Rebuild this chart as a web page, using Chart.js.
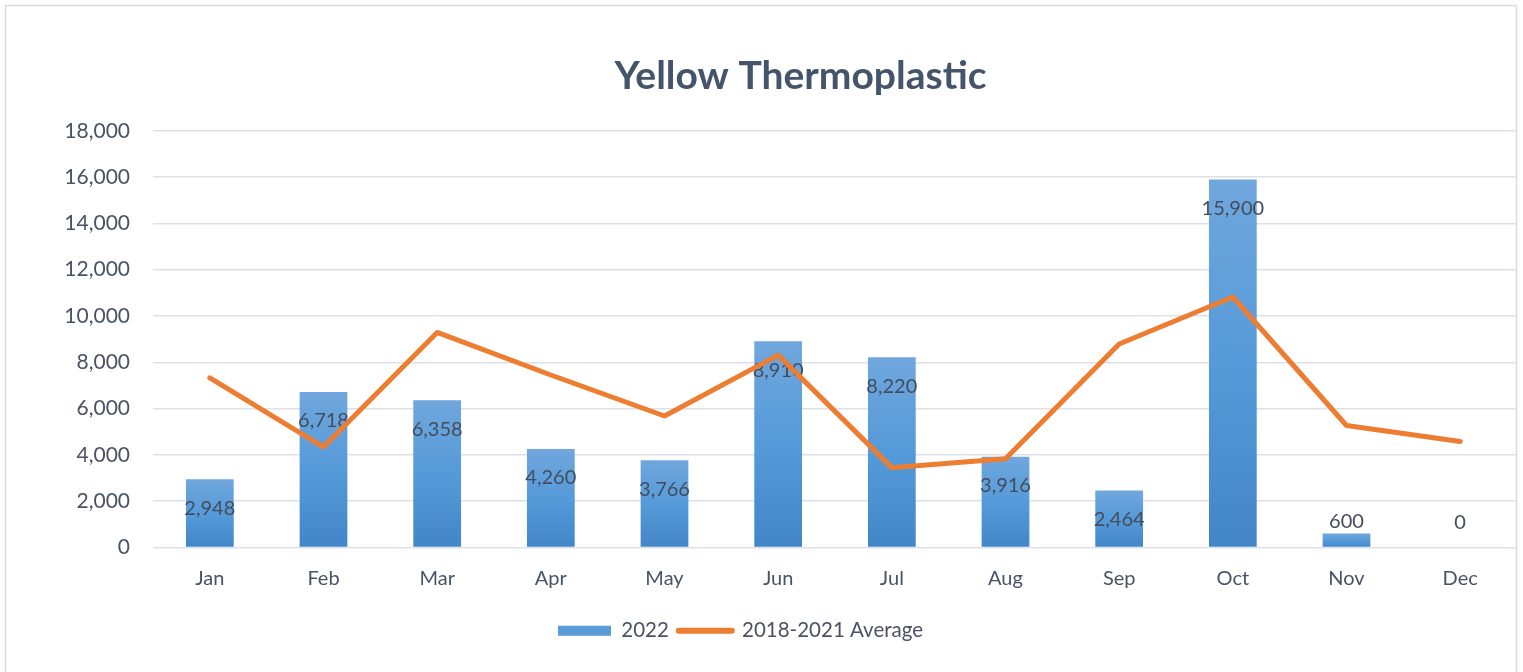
<!DOCTYPE html>
<html>
<head>
<meta charset="utf-8">
<script src="https://cdn.jsdelivr.net/npm/chart.js@4"></script>
<style>
  html, body { margin: 0; padding: 0; background: #fff; }
  #wrap { width: 1523px; height: 672px; }
</style>
</head>
<body>
<div id="wrap"><canvas id="chart" width="1523" height="672"></canvas></div>
<script>
const months = ['Jan', 'Feb', 'Mar', 'Apr', 'May', 'Jun', 'Jul', 'Aug', 'Sep', 'Oct', 'Nov', 'Dec'];
const values2022 = [2948, 6718, 6358, 4260, 3766, 8910, 8220, 3916, 2464, 15900, 600, 0];
const avg2018to2021 = [7330, 4340, 9290, 7450, 5680, 8310, 3450, 3830, 8790, 10820, 5270, 4580];
const yTicks = [0, 2000, 4000, 6000, 8000, 10000, 12000, 14000, 16000, 18000];

const FONT = 'Lato, "Open Sans", sans-serif';
const TEXT = '#4a5366';

// per-bar vertical gradient, like the office chart fill
function barFill(ctx) {
  const chart = ctx.chart;
  if (!chart.chartArea || ctx.type !== 'data') return '#5b9bd5';
  const ys = chart.scales.y;
  const top = ys.getPixelForValue(ctx.raw);
  const base = ys.getPixelForValue(0);
  if (base - top < 1) return '#5b9bd5';
  const g = chart.ctx.createLinearGradient(0, top, 0, base);
  g.addColorStop(0, '#70a7dd');
  g.addColorStop(0.5, '#559ad9');
  g.addColorStop(1, '#4286c7');
  return g;
}

const frame = {
  id: 'frame',
  beforeDraw(chart) {
    const c = chart.ctx;
    c.save();
    c.fillStyle = '#fff';
    c.fillRect(0, 0, chart.width, chart.height);
    c.strokeStyle = '#d9dce1';
    c.lineWidth = 1.5;
    c.strokeRect(5.5, 5.5, 1511, 700);
    c.restore();
  }
};

// title sits right of centre and legend a bit left of centre in the original
const nudge = {
  id: 'nudge',
  afterLayout(chart) {
    chart.legend.left -= 18;
    chart.legend.right -= 18;
    chart.titleBlock.left += 42;
    chart.titleBlock.right += 42;
  }
};

// value labels near the inside end of each bar, drawn before the line
const barLabels = {
  id: 'barLabels',
  afterDatasetDraw(chart, args) {
    if (args.index !== 0) return;
    const c = chart.ctx;
    c.save();
    c.font = '20px ' + FONT;
    c.fillStyle = '#434d5c';
    c.textAlign = 'center';
    c.textBaseline = 'middle';
    args.meta.data.forEach((bar, i) => {
      const y = Math.min(bar.y + 29, bar.base - 25);
      c.fillText(values2022[i].toLocaleString('en-US'), bar.x, y);
    });
    c.restore();
  }
};

new Chart(document.getElementById('chart'), {
  data: {
    labels: months,
    datasets: [
      {
        type: 'bar',
        label: '2022',
        data: values2022,
        backgroundColor: barFill,
        categoryPercentage: 1,
        barPercentage: 0.42,
        order: 2
      },
      {
        type: 'line',
        label: '2018-2021 Average',
        data: avg2018to2021,
        borderColor: '#ed7d31',
        backgroundColor: '#ed7d31',
        borderWidth: 5,
        borderCapStyle: 'round',
        borderJoinStyle: 'round',
        pointRadius: 0,
        tension: 0,
        order: 1
      }
    ]
  },
  options: {
    responsive: false,
    animation: false,
    layout: { padding: { left: 0, right: 6, top: 0, bottom: 21 } },
    plugins: {
      title: {
        display: true,
        text: 'Yellow Thermoplastic',
        color: '#44546a',
        font: { family: FONT, size: 39, weight: 'bold' },
        padding: { top: 53, bottom: 31 }
      },
      legend: {
        position: 'bottom',
        labels: {
          color: TEXT,
          font: { family: FONT, size: 20.5 },
          usePointStyle: true,
          pointStyleWidth: 53,
          boxHeight: 10,
          padding: 10,
          sort: (a, b) => a.datasetIndex - b.datasetIndex,
          generateLabels(chart) {
            return chart.data.datasets.map((ds, i) => ({
              text: ds.label,
              datasetIndex: i,
              fillStyle: i === 0 ? '#5a9bd8' : '#ed7d31',
              strokeStyle: i === 0 ? '#5a9bd8' : '#ed7d31',
              lineWidth: i === 0 ? 0 : 6,
              lineCap: 'round',
              pointStyle: i === 0 ? 'rect' : 'line',
              fontColor: TEXT,
              hidden: false
            }));
          }
        }
      },
      tooltip: { enabled: false }
    },
    scales: {
      x: {
        grid: { display: false },
        border: { display: false },
        ticks: { color: TEXT, font: { family: FONT, size: 20 }, padding: 11 },
        afterFit(scale) { scale.height = 63; }
      },
      y: {
        min: 0,
        max: 18000,
        afterBuildTicks(scale) { scale.ticks = yTicks.map(v => ({ value: v })); },
        grid: { color: '#dde1e7', lineWidth: 1.5, drawTicks: false },
        border: { display: false },
        ticks: {
          color: TEXT,
          font: { family: FONT, size: 21 },
          padding: 23,
          callback: v => v.toLocaleString('en-US')
        },
        afterFit(scale) { scale.width = 153; }
      }
    }
  },
  plugins: [frame, nudge, barLabels]
});
</script>
</body>
</html>
